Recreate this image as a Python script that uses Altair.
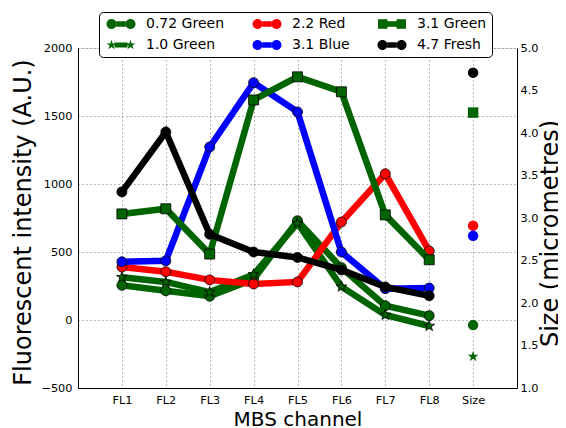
import math
import altair as alt
import pandas as pd

# ---------------- data ----------------
channels = ["FL1", "FL2", "FL3", "FL4", "FL5", "FL6", "FL7", "FL8"]
x_categories = channels + ["Size"]

series = ["0.72 Green", "1.0 Green", "2.2 Red", "3.1 Blue", "3.1 Green", "4.7 Fresh"]
colors = ["#006400", "#006400", "#ff0000", "#0000ff", "#006400", "#000000"]
markers = ["circle", "star", "circle", "circle", "square", "circle"]

green_072 = [255, 215, 175, 300, 730, 385, 105, 32]
green_10 = [315, 280, 205, 335, 712, 245, 37, -44]
red_22 = [390, 355, 295, 265, 280, 720, 1075, 508]
blue_31 = [428, 435, 1272, 1745, 1530, 500, 230, 235]
green_31 = [780, 818, 485, 1618, 1788, 1678, 773, 443]
fresh_47 = [942, 1382, 630, 500, 460, 368, 243, 178]
intensities = [green_072, green_10, red_22, blue_31, green_31, fresh_47]

sizes = [1.74, 1.37, 2.91, 2.79, 4.24, 4.71]

legend_order = ["0.72 Green", "2.2 Red", "3.1 Green", "1.0 Green", "3.1 Blue", "4.7 Fresh"]

left_ticks = [-500, 0, 500, 1000, 1500, 2000]
right_ticks = [1.0, 1.5, 2.0, 2.5, 3.0, 3.5, 4.0, 4.5, 5.0]

# ---------------- shapes ----------------
def star_path(cx=0.0, r=1.0):
    pts = []
    for k in range(10):
        ang = math.radians(-90 + 36 * k)
        rr = r if k % 2 == 0 else r * 0.382
        pts.append((cx + rr * math.cos(ang), rr * math.sin(ang)))
    return "M" + "L".join(f"{x:.3f},{y:.3f}" for x, y in pts) + "Z"


def circle_path(cx, r):
    return (f"M{cx - r:.3f},0A{r},{r},0,1,0,{cx + r:.3f},0"
            f"A{r},{r},0,1,0,{cx - r:.3f},0Z")


STAR = star_path()
leg_circle = circle_path(-1.9, 1.0) + circle_path(1.9, 1.0) + "M-0.95,-0.55H0.95V0.55H-0.95Z"
leg_square = "M-2.8,-0.95H-0.9V0.95H-2.8ZM0.9,-0.95H2.8V0.95H0.9ZM-0.9,-0.55H0.9V0.55H-0.9Z"
leg_star = star_path(-1.9, 1.05) + star_path(1.9, 1.05) + "M-1.3,-0.5H1.3V0.5H-1.3Z"
shape_of = {"circle": "circle", "star": STAR, "square": "square"}
leg_shape_of = {"circle": leg_circle, "star": leg_star, "square": leg_square}

FONT = "DejaVu Sans"
TICK_FS = 11.3

xscale = alt.Scale(domain=x_categories, type="point", padding=1)

xaxis = alt.Axis(
    title="MBS channel", titleFontSize=20, titleFont=FONT, titleFontWeight="normal",
    titleBaseline="alphabetic", titleY=37,
    labelFontSize=TICK_FS, labelFont=FONT, labelAngle=0, labelPadding=6,
    tickSize=0, grid=True, gridDash=[1, 3], gridColor="#555555", gridWidth=0.8,
    domainColor="black", labelColor="black", titleColor="black",
)
yaxis_left = alt.Axis(
    title="Fluorescent intensity (A.U.)", titleFontSize=24, titleFont=FONT,
    titleFontWeight="normal", titleBaseline="alphabetic", titleX=-48, titleY=174,
    values=left_ticks, format="d",
    labelFontSize=TICK_FS, labelFont=FONT, labelPadding=6, tickSize=0,
    grid=True, gridDash=[1, 3], gridColor="#555555", gridWidth=0.8,
    domainColor="black", labelColor="black", titleColor="black",
)
yaxis_right = alt.Axis(
    title="Size (micrometres)", orient="right", titleFontSize=24, titleFont=FONT,
    titleFontWeight="normal", titleAngle=270, titleBaseline="alphabetic",
    titleX=40, titleY=185, values=right_ticks,
    format=".1f", labelFontSize=TICK_FS, labelFont=FONT, labelPadding=3, tickSize=0,
    grid=False, domainColor="black", labelColor="black", titleColor="black",
)

rows = []
for s, vals in zip(series, intensities):
    for ch, v in zip(channels, vals):
        rows.append({"series": s, "channel": ch, "value": v})
df = pd.DataFrame(rows)

size_df = pd.DataFrame({"series": series, "channel": ["Size"] * len(series), "size": sizes})

X = alt.X("channel:N", scale=xscale, axis=xaxis)
YL = alt.Y("value:Q", scale=alt.Scale(domain=[-500, 2000], nice=False, zero=False),
           axis=yaxis_left)
YR = alt.Y("size:Q", scale=alt.Scale(domain=[1, 5], nice=False, zero=False),
           axis=yaxis_right)

left_layers = []
right_layers = []
for s, c, m in zip(series, colors, markers):
    base = alt.Chart(df).transform_filter(alt.datum.series == s)
    line = base.mark_line(strokeWidth=6.5, color=c).encode(x=X, y=YL)
    pts = base.mark_point(
        filled=True, size=130 if m == "star" else 100, opacity=1,
        color=c, stroke="black", strokeWidth=0.8, shape=shape_of[m],
    ).encode(x=X, y=YL)
    left_layers += [line, pts]

    rp = alt.Chart(size_df).transform_filter(alt.datum.series == s).mark_point(
        filled=True, size=130 if m == "star" else 110, opacity=1, color=c,
        strokeWidth=0, shape=shape_of[m],
    ).encode(x=X, y=YR)
    right_layers.append(rp)

left = alt.layer(*left_layers)
right = alt.layer(*right_layers)

legend = alt.Legend(
    title=None, orient="none", legendX=21, legendY=-36,
    direction="horizontal", columns=3,
    symbolSize=100, symbolOffset=10, labelOffset=18,
    labelFontSize=14, labelFont=FONT, labelColor="black",
    padding=5, rowPadding=7, columnPadding=25,
    fillColor="white", strokeColor="black", cornerRadius=4,
    symbolStrokeColor="black", symbolStrokeWidth=0.6, symbolOpacity=1,
)
leg_colors = [colors[series.index(s)] for s in legend_order]
leg_shapes = [leg_shape_of[markers[series.index(s)]] for s in legend_order]
dummy = alt.Chart(size_df).transform_filter("false").mark_point(
    filled=True, opacity=1, stroke="black", strokeWidth=0.6
).encode(
    color=alt.Color("series:N", scale=alt.Scale(domain=legend_order, range=leg_colors),
                    legend=legend),
    shape=alt.Shape("series:N", scale=alt.Scale(domain=legend_order, range=leg_shapes),
                    legend=legend),
)

chart = (
    alt.layer(left, right, dummy)
    .resolve_scale(y="independent")
    .properties(width=439, height=340,
                padding={"left": 70, "top": 40, "right": 41, "bottom": 40},
                autosize=alt.AutoSizeParams(type="none"))
    .configure_view(stroke="black", strokeWidth=1)
    .configure(font=FONT, background="white")
)

chart.save("out.html", embed_options={"renderer": "svg", "actions": False})
